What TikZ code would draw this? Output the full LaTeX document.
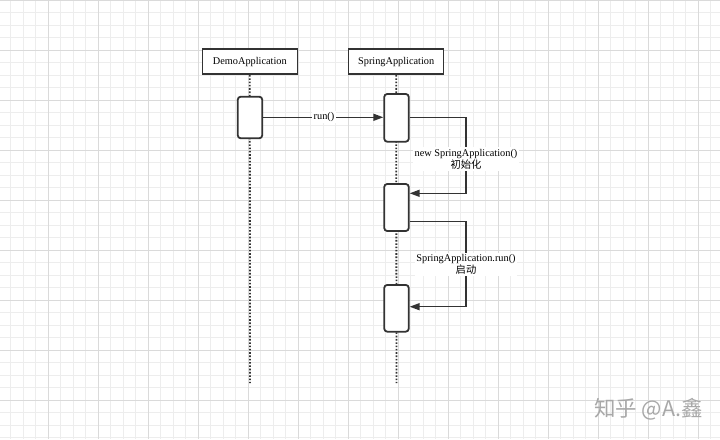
\documentclass[tikz,border=0pt]{standalone}
\usepackage{fontspec}
\setmainfont{Liberation Serif}
\newfontfamily\cjk{Noto Sans CJK SC}
\usetikzlibrary{arrows.meta}
\definecolor{gminor}{HTML}{EDEDED}
\definecolor{gmajor}{HTML}{DADADA}
\definecolor{ink}{HTML}{333333}
\definecolor{wm}{HTML}{A8A8A8}
\tikzset{
  gridminor/.style={draw=gminor, line width=0.8},
  gridmajor/.style={draw=gmajor, line width=0.9},
  header/.style={draw=ink, line width=1.5, fill=white, minimum width=95, minimum height=25, inner sep=0, font=\fontsize{10.3}{12.3}\selectfont},
  act/.style={draw=ink, line width=1.8, fill=white, rounded corners=3, minimum width=24.5, inner sep=0},
  life/.style={draw=ink, line width=1.8, dash pattern=on 1.6 off 1.7},
  msg/.style={draw=ink, line width=1.5, -{Triangle[length=10,width=7]}},
  lbl/.style={fill=white, inner sep=1.5, align=center, font=\fontsize{10.3}{12.3}\selectfont},
}
\begin{document}
\begin{tikzpicture}[x=1pt,y=-1pt]
\useasboundingbox (0,0) rectangle (720,439);
\fill[white] (0,0) rectangle (720,439);
% grid
\foreach \i in {0,...,58} { \draw[gridminor] ({-1.7+12.5*\i},0) -- ++(0,439); }
\foreach \j in {0,...,35} { \draw[gridminor] (0,{12.5*\j}) -- ++(720,0); }
\foreach \i in {0,...,14} { \draw[gridmajor] ({-1.7+50*\i},0) -- ++(0,439); }
\foreach \j in {0,...,8} { \draw[gridmajor] (0,{50*\j}) -- ++(720,0); }
% lifelines
\node[header] (demo) at (249.8,61.7) {DemoApplication};
\node[header] (spring) at (396.2,61.7) {SpringApplication};
\coordinate (demoend) at (250,383);
\coordinate (springend) at (396.5,383);
\draw[life] (demo.south) -- (demoend);
\draw[life] (spring.south) -- (springend);
% activations
\node[act, minimum height=41.6] (a1) at (250,117.5) {};
\node[act, minimum height=47.7] (s1) at (396.5,117.85) {};
\node[act, minimum height=47] (s2) at (396.5,207.5) {};
\node[act, minimum height=46.7] (s3) at (396.5,308.3) {};
% run()
\draw[msg] (a1.east |- 0,117.3) -- (s1.west |- 0,117.3);
\node[lbl] (runl) at (324,117.3) {run()};
% self message 1
\coordinate (k1) at (466,117.3);
\coordinate (k2) at (466,193.3);
\draw[msg] (s1.east |- k1) -- (k1) -- (k2) -- (k2 -| s2.east);
\node[lbl] (l1) at (466,159) {new SpringApplication()\\{\cjk 初始化}};
% self message 2
\coordinate (k3) at (466,221.7);
\coordinate (k4) at (466,306.7);
\draw[msg] (s2.east |- k3) -- (k3) -- (k4) -- (k4 -| s3.east);
\node[lbl] (l2) at (466,264.5) {SpringApplication.run()\\{\cjk 启动}};
% watermark
\node[text=wm, font=\cjk\fontsize{21.5}{24}\selectfont, inner sep=0] (wmark) at (648.5,409) {知乎 @A.鑫};
\end{tikzpicture}
\end{document}
